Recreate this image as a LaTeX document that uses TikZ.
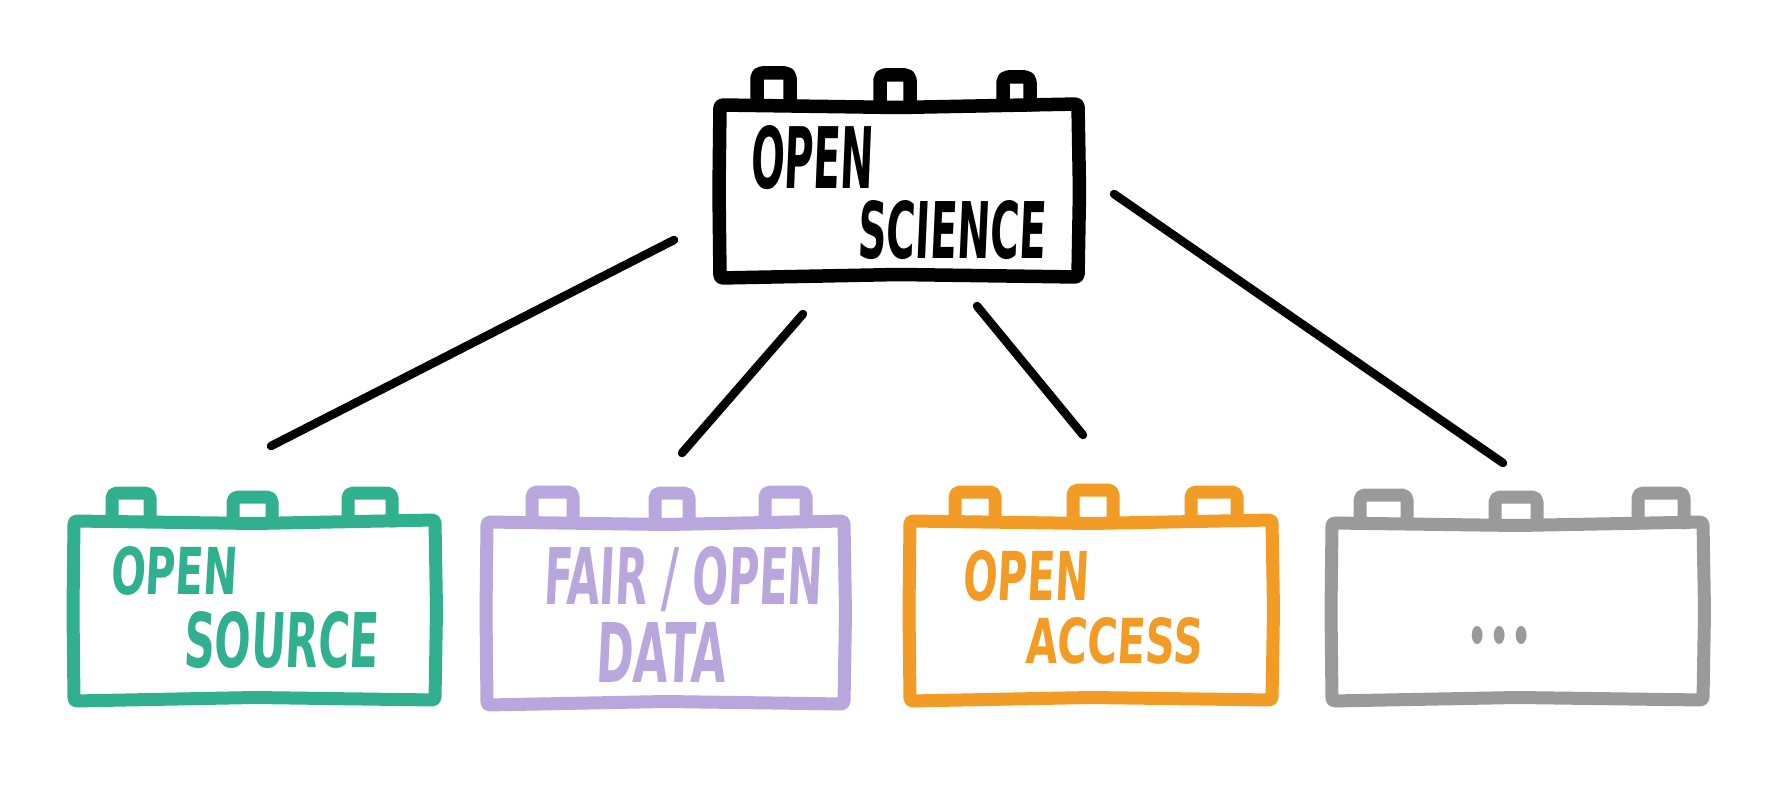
\documentclass[tikz,border=0pt]{standalone}
\usepackage{fontspec}
\usepackage{graphicx}
\newfontfamily\handfont[FakeSlant=0.08]{DejaVu Sans Condensed}
\definecolor{osgreen}{HTML}{30B08E}
\definecolor{fdpurple}{HTML}{B9A6DD}
\definecolor{oaorange}{HTML}{F29B25}
\definecolor{etcgray}{HTML}{9A9A9A}
\newcommand\fitword[3]{\resizebox{#1pt}{#2pt}{\handfont\bfseries #3}}
\newcommand\fitdots[2]{\resizebox{#1pt}{#2pt}{\normalfont\bfseries ...}}
% slightly uneven hand-drawn body: #1 style, #2 L, #3 T, #4 R, #5 B
\newcommand\wobblebody[5]{%
  \draw[#1] (#2,#3) -- ({(#2+#4)/2},{#3+2.5}) -- (#4,{#3-1}) -- ({#4+1.5},{(#3+#5)/2}) -- (#4,#5)
     -- ({(#2+#4)/2},{#5-2.5}) -- (#2,{#5+1}) -- ({#2-1},{(#3+#5)/2}) -- cycle;}
\begin{document}
\begin{tikzpicture}[x=1pt,y=-1pt,
  body/.style={line width=13pt, line join=round, line cap=round, rounded corners=3pt},
  bump/.style={line width=13pt, line join=round, line cap=round, rounded corners=5pt},
  conn/.style={line width=8.5pt, line cap=round, black},
  label/.style={anchor=north west, inner sep=0pt, outer sep=0pt},
  holder/.style={inner sep=0pt, outer sep=0pt}]
\useasboundingbox (0,0) rectangle (1791,789);
\fill[white] (0,0) rectangle (1791,789);

% ---------- top brick: OPEN SCIENCE
\foreach \a/\b/\t in {757/790/73, 880/910/75, 1003/1030/77}
  \draw[bump, line width=13.5pt, black] (\a,105) -- (\a,\t) -- (\b,\t) -- (\b,105);
\wobblebody{body, line width=13.5pt, black}{720}{105}{1078}{277}
\node[holder, minimum width=358pt, minimum height=172pt] (sci) at (899,191) {};
\node[label, text=black] (sciA) at (750,125) {\fitword{123}{63}{OPEN}};
\node[label, text=black] (sciB) at (857,200) {\fitword{188}{58}{SCIENCE}};

% ---------- green brick: OPEN SOURCE
\foreach \a/\b/\t in {112/150/493, 233/272/497, 348/392/493}
  \draw[bump, osgreen] (\a,521) -- (\a,\t) -- (\b,\t) -- (\b,521);
\wobblebody{body, osgreen}{74}{521}{435}{700}
\node[holder, minimum width=361pt, minimum height=179pt] (os) at (254,610) {};
\node[label, text=osgreen] (osA) at (110,546) {\fitword{127}{48}{OPEN}};
\node[label, text=osgreen] (osB) at (183,611) {\fitword{195}{56}{SOURCE}};

% ---------- purple brick: FAIR / OPEN DATA
\foreach \a/\b/\t in {532/573/492, 655/689/493, 765/806/492}
  \draw[bump, fdpurple] (\a,522) -- (\a,\t) -- (\b,\t) -- (\b,522);
\wobblebody{body, fdpurple}{487}{522}{844}{704}
\node[holder, minimum width=357pt, minimum height=182pt] (fd) at (665,613) {};
\node[label, text=fdpurple] (fdA) at (543,546) {\fitword{279}{58}{FAIR / OPEN}};
\node[label, text=fdpurple] (fdB) at (595,622) {\fitword{130}{60}{DATA}};

% ---------- orange brick: OPEN ACCESS
\foreach \a/\b/\t in {955/995/492, 1073/1113/490, 1191/1237/492}
  \draw[bump, oaorange] (\a,521) -- (\a,\t) -- (\b,\t) -- (\b,521);
\wobblebody{body, oaorange}{910}{521}{1272}{700}
\node[holder, minimum width=362pt, minimum height=179pt] (oa) at (1091,610) {};
\node[label, text=oaorange] (oaA) at (962,550) {\fitword{126}{50}{OPEN}};
\node[label, text=oaorange] (oaB) at (1025,617) {\fitword{177}{46}{ACCESS}};

% ---------- gray brick: ...
\foreach \a/\b/\t in {1360/1407/495, 1495/1537/497, 1638/1684/493}
  \draw[bump, etcgray] (\a,523) -- (\a,\t) -- (\b,\t) -- (\b,523);
\wobblebody{body, etcgray}{1332}{523}{1703}{700}
\node[holder, minimum width=371pt, minimum height=177pt] (etc) at (1517,611) {};
\node[label, text=etcgray] (etcA) at (1466,626) {\fitdots{67}{18}};

% ---------- connectors
\coordinate (c1a) at (674,240); \coordinate (c1b) at (271,446);
\coordinate (c2a) at (803,314); \coordinate (c2b) at (682,453);
\coordinate (c3a) at (977,306); \coordinate (c3b) at (1083,435);
\coordinate (c4a) at (1114,194); \coordinate (c4b) at (1503,463);
\draw[conn] (c1a) -- (c1b);
\draw[conn] (c2a) -- (c2b);
\draw[conn] (c3a) -- (c3b);
\draw[conn] (c4a) -- (c4b);
\end{tikzpicture}
\end{document}
